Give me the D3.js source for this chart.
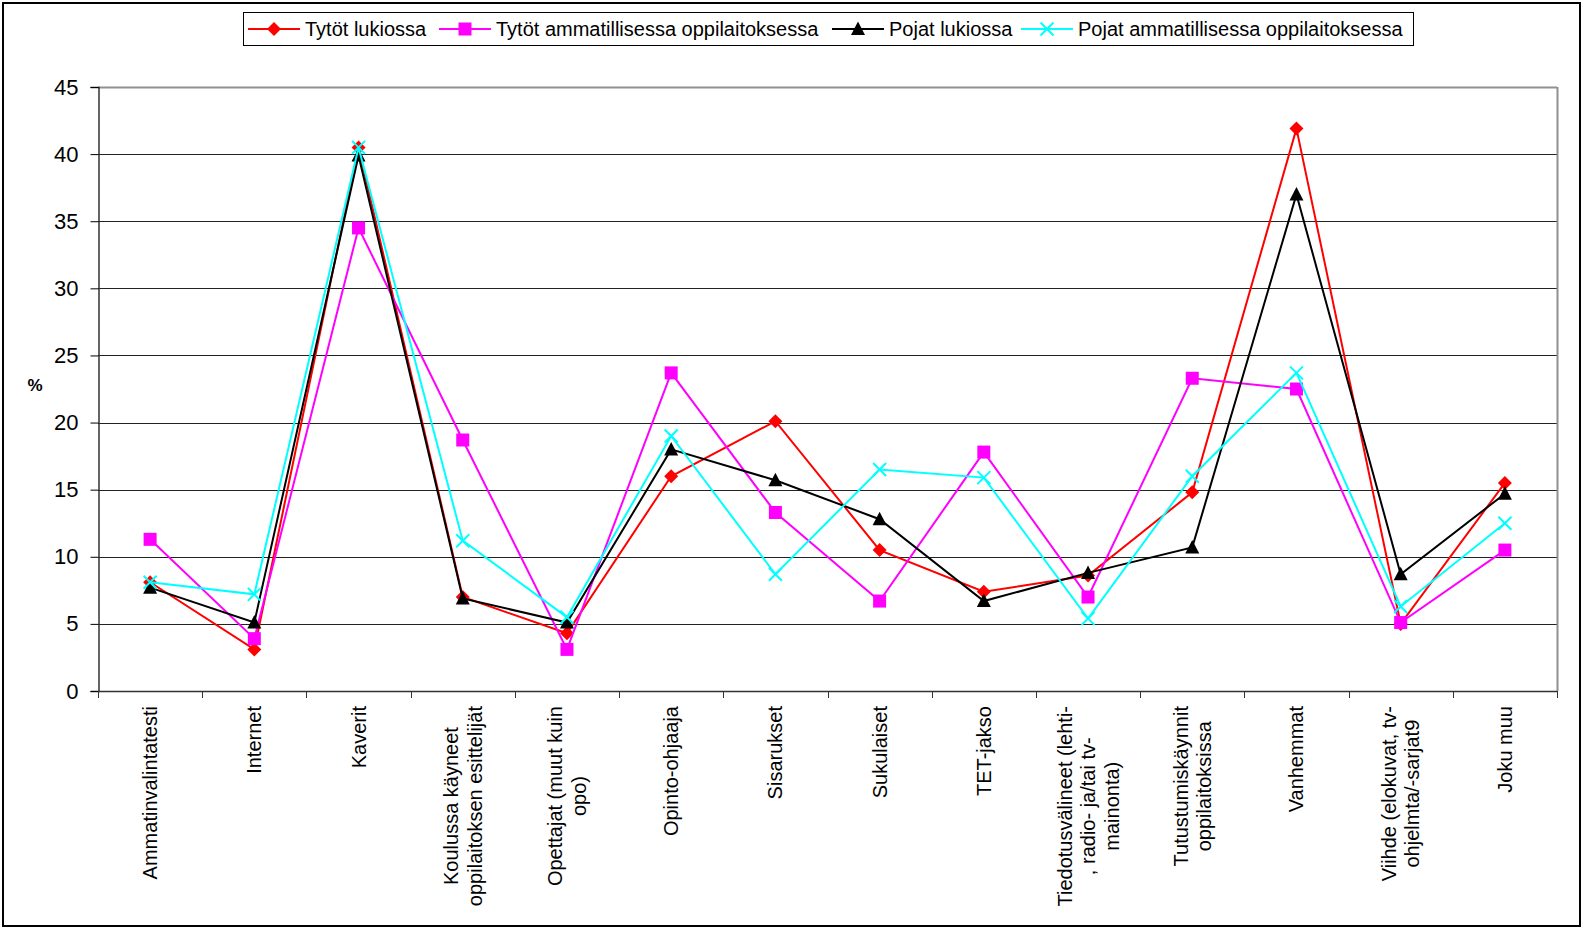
<!DOCTYPE html>
<html><head><meta charset="utf-8">
<script src="https://cdn.jsdelivr.net/npm/d3@7"></script>
<style>body{margin:0;background:#fff}svg{display:block;font-family:"Liberation Sans",Arial,sans-serif}</style>
</head><body><svg id="c" width="1585" height="930"></svg>
<script>
const categories = [
  ["Ammatinvalintatesti"],
  ["Internet"],
  ["Kaverit"],
  ["Koulussa käyneet","oppilaitoksen esittelijät"],
  ["Opettajat (muut kuin","opo)"],
  ["Opinto-ohjaaja"],
  ["Sisarukset"],
  ["Sukulaiset"],
  ["TET-jakso"],
  ["Tiedotusvälineet (lehti-",", radio- ja/tai tv-","mainonta)"],
  ["Tutustumiskäynnit","oppilaitoksissa"],
  ["Vanhemmat"],
  ["Viihde (elokuvat, tv-","ohjelmta/-sarjat9"],
  ["Joku muu"]
];
const seriesNames = ["Tytöt lukiossa","Tytöt ammatillisessa oppilaitoksessa","Pojat lukiossa","Pojat ammatillisessa oppilaitoksessa"];
const tytotLukio   = [8.1, 3.1, 40.5, 7.0, 4.3, 16.0, 20.1, 10.5, 7.4, 8.6, 14.8, 41.9, 5.0, 15.5];
const tytotAmm     = [11.3, 3.9, 34.5, 18.7, 3.1, 23.7, 13.3, 6.7, 17.8, 7.0, 23.3, 22.5, 5.1, 10.5];
const pojatLukio   = [7.7, 5.1, 39.9, 6.9, 5.1, 18.0, 15.7, 12.8, 6.7, 8.8, 10.7, 37.0, 8.7, 14.7];
const pojatAmm     = [8.1, 7.2, 40.5, 11.2, 5.5, 19.0, 8.7, 16.5, 15.9, 5.4, 16.0, 23.7, 6.3, 12.5];
const yTicks = [0,5,10,15,20,25,30,35,40,45];

const seriesValues = [tytotLukio, tytotAmm, pojatLukio, pojatAmm];
const colors = ["#ff0000","#ff00ff","#000000","#00ffff"];
const markers = ["diamond","square","triangle","x"];

const svg = d3.select("#c");
const L = 98, R = 1557, T = 87, B = 691;
const x = d3.scalePoint().domain(d3.range(categories.length)).range([L, R]).padding(0.5);
const step = x.step();
const y = d3.scaleLinear().domain([0,45]).range([B, T]);

// outer border
svg.append("rect").attr("x",3).attr("y",3).attr("width",1577).attr("height",923)
  .attr("fill","none").attr("stroke","#000").attr("stroke-width",2);

// gridlines
svg.append("g").selectAll("line").data(yTicks.filter(d=>d>0)).join("line")
  .attr("x1",L).attr("x2",R).attr("y1",d=>Math.round(y(d))+0.5).attr("y2",d=>Math.round(y(d))+0.5)
  .attr("stroke",d=>d===45?"#909090":"#222").attr("stroke-width",d=>d===45?2:1);
// right plot border
svg.append("line").attr("x1",R+0.5).attr("x2",R+0.5).attr("y1",T).attr("y2",B)
  .attr("stroke","#909090").attr("stroke-width",2);

// y axis
const yAxis = d3.axisLeft(y).tickValues(yTicks).tickSize(8).tickPadding(12);
const gy = svg.append("g").attr("transform",`translate(${L+0.5},0)`).call(yAxis);
gy.select(".domain").attr("stroke","#333").attr("stroke-width",1.5);
gy.selectAll(".tick line").attr("stroke","#000");
gy.selectAll(".tick text").attr("font-size",22).attr("fill","#000").attr("font-family","Liberation Sans, Arial");

svg.append("text").attr("x",35).attr("y",391).attr("text-anchor","middle")
  .attr("font-size",17).attr("font-weight","bold").text("%");

// x axis
svg.append("line").attr("x1",L).attr("x2",R).attr("y1",B+0.5).attr("y2",B+0.5).attr("stroke","#333").attr("stroke-width",1.5);
svg.append("g").selectAll("line").data(d3.range(categories.length+1)).join("line")
  .attr("x1",i=>Math.round(L+i*step)+0.5).attr("x2",i=>Math.round(L+i*step)+0.5)
  .attr("y1",B).attr("y2",B+7).attr("stroke","#333");

// x labels (rotated, lines centered, top-aligned)
const lblG = svg.append("g");
categories.forEach((lines,i)=>{
  const g = lblG.append("g");
  const texts = lines.map(t=>g.append("text").attr("font-size",20).attr("text-anchor","middle").text(t));
  const maxLen = d3.max(texts,t=>t.node().getComputedTextLength());
  const lh = 23.5;
  const n = lines.length;
  texts.forEach((t,j)=>{
    const off = (j-(n-1)/2)*lh;
    const cx = x(i) + off;
    const cy = B + 15 + maxLen/2;
    t.attr("transform",`translate(${cx+7},${cy}) rotate(-90)`).attr("x",0).attr("y",0);
  });
});

function drawMarker(g, type, color, cx, cy){
  if(type==="diamond"){
    g.append("path").attr("d",`M${cx},${cy-7}L${cx+7},${cy}L${cx},${cy+7}L${cx-7},${cy}Z`).attr("fill",color);
  } else if(type==="square"){
    g.append("rect").attr("x",cx-6.5).attr("y",cy-6.5).attr("width",13).attr("height",13).attr("fill",color);
  } else if(type==="triangle"){
    g.append("path").attr("d",`M${cx},${cy-7.5}L${cx+7},${cy+6}L${cx-7},${cy+6}Z`).attr("fill",color);
  } else {
    g.append("path").attr("d",`M${cx-6.5},${cy-6.5}L${cx+6.5},${cy+6.5}M${cx-6.5},${cy+6.5}L${cx+6.5},${cy-6.5}`).attr("stroke",color).attr("stroke-width",2).attr("fill","none");
  }
}

const line = d3.line().x((d,i)=>x(i)).y(d=>y(d));
seriesValues.forEach((vals,s)=>{
  const g = svg.append("g");
  g.append("path").attr("d",line(vals)).attr("fill","none").attr("stroke",colors[s]).attr("stroke-width",2);
  vals.forEach((v,i)=>drawMarker(g, markers[s], colors[s], x(i), y(v)));
});

// legend
svg.append("rect").attr("x",243.5).attr("y",12.5).attr("width",1170).attr("height",33)
  .attr("fill","#fff").attr("stroke","#000").attr("stroke-width",1);
const legX = [248, 439, 832, 1021];
seriesNames.forEach((n,s)=>{
  const g = svg.append("g");
  const lx = legX[s], ly = 29;
  g.append("line").attr("x1",lx).attr("x2",lx+52).attr("y1",ly).attr("y2",ly).attr("stroke",colors[s]).attr("stroke-width",2);
  drawMarker(g, markers[s], colors[s], lx+26, ly);
  g.append("text").attr("x",lx+57).attr("y",ly+7).attr("font-size",20).text(n);
});
</script></body></html>
